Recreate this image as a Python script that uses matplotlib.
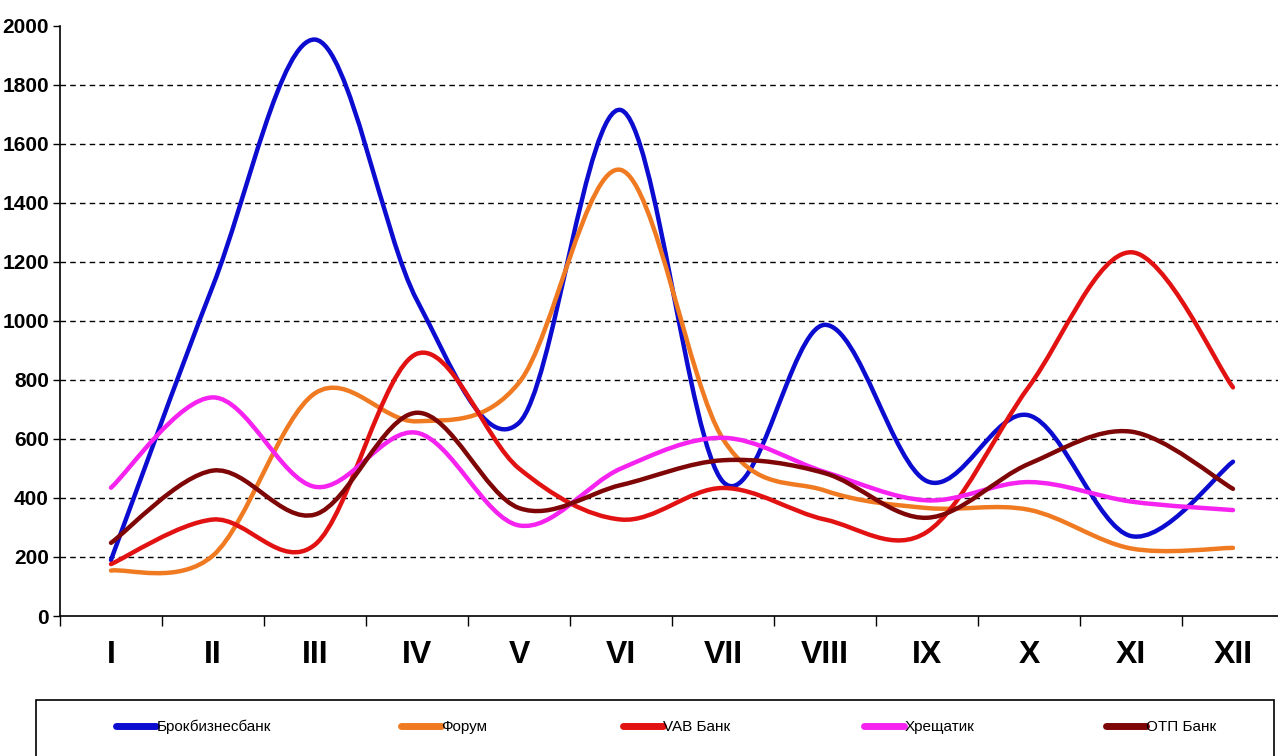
import matplotlib
matplotlib.use("Agg")
import matplotlib.pyplot as plt
from matplotlib.path import Path
from matplotlib.patches import PathPatch, Rectangle
from matplotlib.lines import Line2D

# months and bank series
months = ["I", "II", "III", "IV", "V", "VI", "VII", "VIII", "IX", "X", "XI", "XII"]
brokbiznes = [190, 1120, 1954, 1070, 655, 1715, 455, 987, 457, 680, 271, 523]
forum = [154, 205, 755, 660, 791, 1512, 600, 425, 366, 360, 229, 231]
vab = [176, 327, 242, 889, 500, 327, 434, 327, 285, 778, 1233, 775]
khreshchatyk = [435, 741, 438, 621, 307, 500, 604, 488, 392, 454, 388, 359]
otp = [248, 493, 344, 689, 366, 444, 528, 484, 333, 516, 625, 431]

names = ["Брокбизнесбанк", "Форум", "VAB Банк", "Хрещатик", "ОТП Банк"]
colors = ["#0c0cd0", "#f07a22", "#e21212", "#f522f0", "#7e0606"]
series = [brokbiznes, forum, vab, khreshchatyk, otp]
# left edge of each legend entry, in pixels
legend_x = [116, 401, 623, 864, 1106]

sans = ["Liberation Sans", "DejaVu Sans"]


def smooth_path(xs, ys):
    # excel-style smoothed line: bezier segments through the data points
    pts = list(zip(xs, ys))
    verts = [pts[0]]
    codes = [Path.MOVETO]
    n = len(pts)
    for i in range(n - 1):
        p0 = pts[i - 1] if i > 0 else pts[i]
        p1 = pts[i]
        p2 = pts[i + 1]
        p3 = pts[i + 2] if i + 2 < n else pts[i + 1]
        c1 = (p1[0] + (p2[0] - p0[0]) / 6.0, p1[1] + (p2[1] - p0[1]) / 6.0)
        c2 = (p2[0] - (p3[0] - p1[0]) / 6.0, p2[1] - (p3[1] - p1[1]) / 6.0)
        verts += [c1, c2, p2]
        codes += [Path.CURVE4] * 3
    return Path(verts, codes)


W, H = 1278, 756
fig = plt.figure(figsize=(W / 100, H / 100), dpi=100)
ax = fig.add_axes([60 / W, 1 - 616 / H, 1224 / W, 590 / H])

x = list(range(len(months)))
handles = []
for vals, col, name in zip(series, colors, names):
    patch = PathPatch(smooth_path(x, vals), facecolor="none", edgecolor=col,
                      lw=3.2, capstyle="round", joinstyle="round")
    ax.add_patch(patch)
    handles.append(Line2D([], [], color=col, lw=5, solid_capstyle="round", label=name))

ax.set_xlim(-0.5, 11.5)
ax.set_ylim(0, 2000)
ax.set_yticks(range(0, 2001, 200))
ax.set_yticklabels([str(v) for v in range(0, 2001, 200)],
                   family=sans, fontweight="bold", fontsize=15)
for v in range(200, 2000, 200):
    ax.axhline(v, color="black", lw=1, ls=(0, (4, 3)), zorder=0)

ax.set_xticks(x)
ax.set_xticklabels(months, fontweight="bold", fontsize=23, family=sans)
ax.set_xticks([i - 0.5 for i in x], minor=True)
ax.tick_params(axis="x", which="major", length=0, pad=17)
ax.tick_params(axis="x", which="minor", length=7, width=1, direction="out")
ax.tick_params(axis="y", length=5, width=1, pad=3)

ax.spines["top"].set_visible(False)
ax.spines["right"].set_visible(False)
ax.spines["left"].set_linewidth(1.2)
ax.spines["bottom"].set_linewidth(1.2)

# legend box
fig.add_artist(Rectangle((36 / W, -0.01), (1274 - 36) / W, (H - 700) / H + 0.01,
                         transform=fig.transFigure, facecolor="white",
                         edgecolor="black", lw=1.2))
for h, lx in zip(handles, legend_x):
    fig.legend(handles=[h], loc="center left", bbox_to_anchor=(lx / W, 1 - 727 / H),
               prop={"family": sans, "size": 11},
               frameon=False, handlelength=2.6, handletextpad=0.05,
               borderpad=0, borderaxespad=0)

fig.savefig("out.png", dpi=100)
